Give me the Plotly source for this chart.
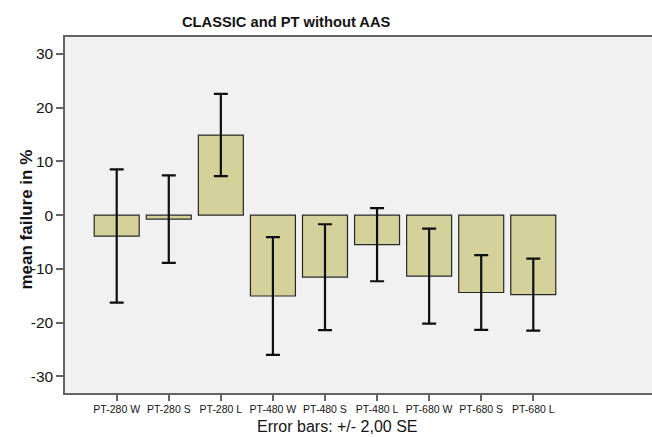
import plotly.graph_objects as go

# Mean failure per pin-tooth group, with +/- 2 SE half-widths
groups = ["PT-280 W", "PT-280 S", "PT-280 L",
          "PT-480 W", "PT-480 S", "PT-480 L",
          "PT-680 W", "PT-680 S", "PT-680 L"]
mean_failure = [-3.9, -0.75, 14.9, -15.05, -11.55, -5.5, -11.35, -14.4, -14.8]
two_se = [12.4, 8.15, 7.65, 10.95, 9.85, 6.8, 8.85, 6.95, 6.7]

y_ticks = [-30, -20, -10, 0, 10, 20, 30]

FONT = "Liberation Sans, Arial, sans-serif"
BAR_FILL = "rgb(213,209,155)"
PLOT_BG = "rgb(241,241,241)"
FRAME = "rgb(100,100,100)"

fig = go.Figure()
fig.add_trace(go.Bar(
    x=list(range(len(groups))),
    y=mean_failure,
    width=0.864,
    marker=dict(color=BAR_FILL, line=dict(color="rgb(40,40,40)", width=1.2)),
    error_y=dict(type="data", array=two_se, symmetric=True,
                 color="rgb(15,15,15)", thickness=2.2, width=7),
    hoverinfo="skip",
))

fig.update_layout(
    width=652, height=437,
    margin=dict(l=65, r=0, t=37, b=44),
    paper_bgcolor="white",
    plot_bgcolor=PLOT_BG,
    showlegend=False,
    font=dict(family=FONT, color="rgb(20,20,20)"),
    xaxis=dict(
        range=[-0.993, 10.28],
        tickmode="array",
        tickvals=list(range(len(groups))),
        ticktext=groups,
        ticks="outside", ticklen=6, tickwidth=1.5, tickcolor=FRAME,
        tickfont=dict(size=10.5, family=FONT, color="rgb(20,20,20)"),
        showline=True, linecolor=FRAME, linewidth=1.5, mirror=True,
        showgrid=False, zeroline=False,
        fixedrange=True,
    ),
    yaxis=dict(
        range=[-33.1, 33.15],
        tickmode="array",
        tickvals=y_ticks,
        ticktext=[str(v) for v in y_ticks],
        ticks="outside", ticklen=7, tickwidth=1.5, tickcolor=FRAME,
        tickfont=dict(size=15.5, family=FONT, color="rgb(20,20,20)"),
        showline=True, linecolor=FRAME, linewidth=1.5,
        showgrid=False, zeroline=False,
        fixedrange=True,
    ),
    annotations=[
        dict(text="<b>CLASSIC and PT without AAS</b>", xref="paper", yref="paper",
             x=0.378, y=1.041, xanchor="center", yanchor="middle",
             showarrow=False, font=dict(size=14.7, family=FONT, color="rgb(20,20,20)")),
        dict(text="<b>mean failure in %</b>", xref="paper", yref="paper",
             x=-0.066, y=0.488, xanchor="center", yanchor="middle", textangle=-90,
             showarrow=False, font=dict(size=17, family=FONT, color="rgb(20,20,20)")),
        dict(text="Error bars: +/- 2,00 SE", xref="paper", yref="paper",
             x=0.464, y=-0.093, xanchor="center", yanchor="middle",
             showarrow=False, font=dict(size=16, family=FONT, color="rgb(20,20,20)")),
    ],
)

fig.write_html("out.html", config={"displayModeBar": False})
